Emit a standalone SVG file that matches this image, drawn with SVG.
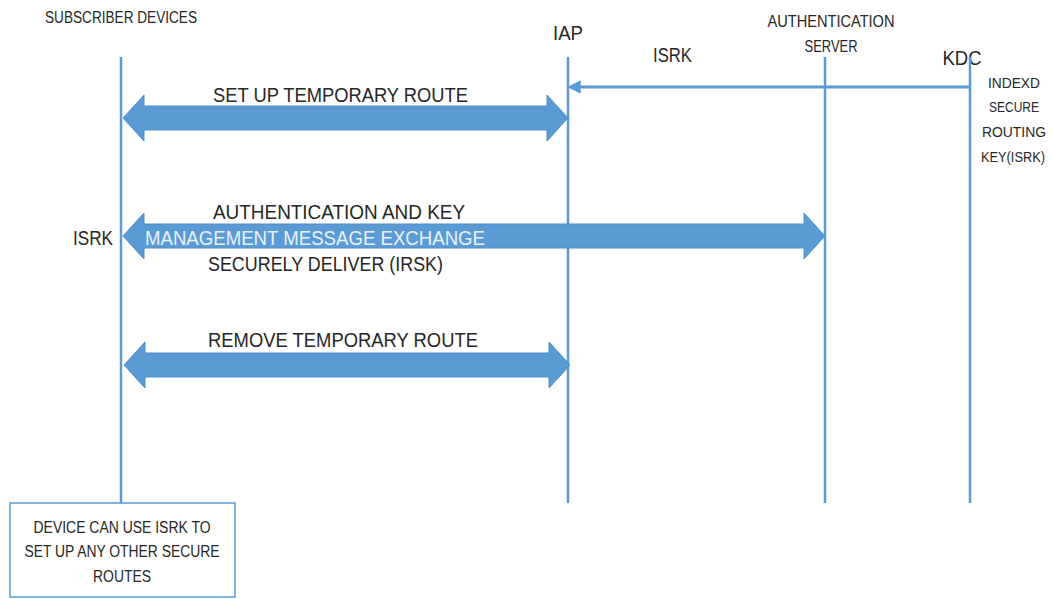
<svg xmlns="http://www.w3.org/2000/svg" width="1053" height="599" viewBox="0 0 1053 599">
  <defs>
    <style>
      text { font-family: "Liberation Sans", Arial, sans-serif; fill: #262626; }
      .lbl { font-size: 20px; }
      .sm { font-size: 16px; }
      .side { font-size: 15px; }
      .life { stroke: #5b9bd5; stroke-width: 2.5; fill: none; }
      .big { fill: #5b9bd5; stroke: #4f8fcb; stroke-width: 1; }
      .thin { stroke: #5b9bd5; stroke-width: 3; fill: none; }
    </style>
    <marker id="head" viewBox="0 0 10 10" refX="2" refY="5" markerWidth="4.5" markerHeight="4.5" orient="auto-start-reverse">
      <path d="M0,0 L10,5 L0,10 Z" fill="#5b9bd5"/>
    </marker>
  </defs>

  <rect width="1053" height="599" fill="#ffffff"/>

  <!-- participants -->
  <g id="subscriber">
    <text class="sm" x="45" y="23" textLength="152" lengthAdjust="spacingAndGlyphs">SUBSCRIBER DEVICES</text>
    <line class="life" x1="121" y1="57" x2="121" y2="503"/>
  </g>
  <g id="iap">
    <text class="lbl" x="568" y="40" text-anchor="middle" textLength="30" lengthAdjust="spacingAndGlyphs">IAP</text>
    <line class="life" x1="568" y1="57" x2="568" y2="503"/>
  </g>
  <g id="auth-server">
    <text class="sm" x="831" y="27" text-anchor="middle" textLength="127" lengthAdjust="spacingAndGlyphs">AUTHENTICATION</text>
    <text class="sm" x="831" y="52" text-anchor="middle" textLength="53" lengthAdjust="spacingAndGlyphs">SERVER</text>
    <line class="life" x1="825" y1="57" x2="825" y2="503"/>
  </g>
  <g id="kdc">
    <text class="lbl" x="962" y="65" text-anchor="middle" textLength="39" lengthAdjust="spacingAndGlyphs">KDC</text>
    <line class="life" x1="970" y1="57" x2="970" y2="503"/>
    <text class="side" x="1014" y="88" text-anchor="middle" textLength="52" lengthAdjust="spacingAndGlyphs">INDEXD</text>
    <text class="side" x="1014" y="112" text-anchor="middle" textLength="50" lengthAdjust="spacingAndGlyphs">SECURE</text>
    <text class="side" x="1014" y="137" text-anchor="middle" textLength="64" lengthAdjust="spacingAndGlyphs">ROUTING</text>
    <text class="side" x="1013" y="162" text-anchor="middle" textLength="64" lengthAdjust="spacingAndGlyphs" style="font-size:14px">KEY(ISRK)</text>
  </g>

  <!-- messages -->
  <g id="connectors">
    <!-- ISRK from KDC to IAP -->
    <line class="thin" x1="970" y1="87" x2="578" y2="87" marker-end="url(#head)"/>
    <text class="lbl" x="653" y="62" textLength="39" lengthAdjust="spacingAndGlyphs">ISRK</text>

    <!-- set up temporary route -->
    <path class="big" d="M123,118 L144,95 L144,106 L547,106 L547,95 L568,118 L547,141 L547,130 L144,130 L144,141 Z"/>
    <text class="lbl" x="213" y="102" textLength="255" lengthAdjust="spacingAndGlyphs">SET UP TEMPORARY ROUTE</text>

    <!-- authentication and key management -->
    <path class="big" d="M123,236 L144,213 L144,224 L804,224 L804,213 L825,236 L804,259 L804,248 L144,248 L144,259 Z"/>
    <text class="lbl" x="213" y="219" textLength="252" lengthAdjust="spacingAndGlyphs">AUTHENTICATION AND KEY</text>
    <text class="lbl" x="145" y="245" textLength="340" lengthAdjust="spacingAndGlyphs" style="fill:#e9f1fa">MANAGEMENT MESSAGE EXCHANGE</text>
    <text class="lbl" x="208" y="271" textLength="235" lengthAdjust="spacingAndGlyphs">SECURELY DELIVER (IRSK)</text>
    <text class="lbl" x="73" y="245" textLength="40" lengthAdjust="spacingAndGlyphs">ISRK</text>

    <!-- remove temporary route -->
    <path class="big" d="M124,365 L145,342 L145,353 L549,353 L549,342 L570,365 L549,388 L549,377 L145,377 L145,388 Z"/>
    <text class="lbl" x="208" y="347" textLength="270" lengthAdjust="spacingAndGlyphs">REMOVE TEMPORARY ROUTE</text>
  </g>

  <!-- note -->
  <g id="note">
    <rect x="10" y="503" width="225" height="94" fill="#ffffff" stroke="#5b9bd5" stroke-width="1.5"/>
    <text class="sm" x="122" y="533" text-anchor="middle" textLength="177" lengthAdjust="spacingAndGlyphs">DEVICE CAN USE ISRK TO</text>
    <text class="sm" x="122" y="557" text-anchor="middle" textLength="195" lengthAdjust="spacingAndGlyphs">SET UP ANY OTHER SECURE</text>
    <text class="sm" x="122" y="582" text-anchor="middle" textLength="58" lengthAdjust="spacingAndGlyphs">ROUTES</text>
  </g>
</svg>
